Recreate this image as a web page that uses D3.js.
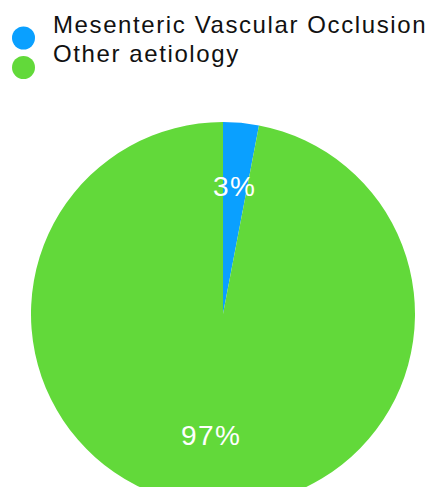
<!DOCTYPE html>
<html>
<head>
<meta charset="utf-8">
<style>
  body { margin: 0; background: #fff; }
  text { font-family: "Liberation Sans", Arial, sans-serif; }
</style>
</head>
<body>
<svg width="435" height="487"></svg>
<script src="https://cdn.jsdelivr.net/npm/d3@7"></script>
<script>

var categories = ["Mesenteric Vascular Occlusion", "Other aetiology"];
var values = [3, 97];
var labels = ["3%", "97%"];
var colors = ["#0aa0ff", "#62d93a"];

var svg = d3.select("svg"),
    width = +svg.attr("width"),
    height = +svg.attr("height"),
    cx = 223, cy = 314, radius = 192;

var color = d3.scaleOrdinal().domain(categories).range(colors);

var pie = d3.pie().sort(null).value(function(d, i){ return values[i]; });
var arcs = pie(categories);

var arc = d3.arc().innerRadius(0).outerRadius(radius);
var labelArc = d3.arc().innerRadius(125).outerRadius(125);

var g = svg.append("g").attr("transform", "translate(" + cx + "," + cy + ")");

g.selectAll("path")
    .data(arcs)
  .enter().append("path")
    .attr("d", arc)
    .attr("fill", function(d){ return color(d.data); });

g.selectAll("text")
    .data(arcs)
  .enter().append("text")
    .attr("transform", function(d){
        var c = labelArc.centroid(d);
        return "translate(" + c[0] + "," + (c[1] - 4) + ")";
    })
    .attr("text-anchor", "middle")
    .attr("dy", "0.36em")
    .attr("fill", "#fff")
    .style("font-size", "28px")
    .style("letter-spacing", "1.5px")
    .text(function(d, i){ return labels[i]; });

// legend
var legend = svg.append("g");
var rows = legend.selectAll("g")
    .data(categories)
  .enter().append("g")
    .attr("transform", function(d, i){ return "translate(0," + (i * 29.5) + ")"; });

rows.append("circle")
    .attr("cx", 23.5)
    .attr("cy", 38)
    .attr("r", 11.5)
    .attr("fill", function(d){ return color(d); });

rows.append("text")
    .attr("x", 53)
    .attr("y", 32.5)
    .attr("fill", "#111")
    .style("font-size", "24px")
    .style("letter-spacing", "1.6px")
    .text(function(d){ return d; });

</script>
</body>
</html>
